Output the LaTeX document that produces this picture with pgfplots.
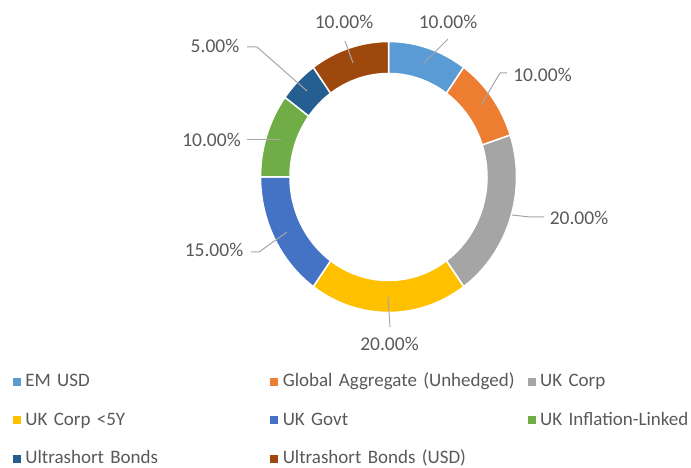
\documentclass[border=0pt]{standalone}
\usepackage{pgfplots}
\pgfplotsset{compat=1.18}
\usepackage{pgfplotstable}
\usepackage{fontspec}
\setmainfont{Carlito}
\definecolor{c0}{HTML}{5B9BD5}
\definecolor{c1}{HTML}{ED7D31}
\definecolor{c2}{HTML}{A5A5A5}
\definecolor{c3}{HTML}{FFC000}
\definecolor{c4}{HTML}{4472C4}
\definecolor{c5}{HTML}{70AD47}
\definecolor{c6}{HTML}{255E91}
\definecolor{c7}{HTML}{9E480E}
\definecolor{txt}{HTML}{595959}
\definecolor{lead}{HTML}{A6A6A6}
\pgfplotstableread{
idx value
0 10
1 10
2 20
3 20
4 15
5 10
6 5
7 10
}\donut
\begin{document}
\hyphenpenalty=10000
\exhyphenpenalty=10000
\begin{tikzpicture}
\begin{axis}[
  x=1pt, y=1pt, xmin=0, xmax=691, ymin=0, ymax=465,
  hide axis, clip=false,
  legend columns=3,
  legend cell align=left,
  legend image code/.code={\fill[#1] (0pt,-3.5pt) rectangle (7pt,3.5pt);},
  legend style={draw=none, fill=none, inner sep=0pt, outer sep=0pt,
    at={(axis description cs:0.018813,0.2)}, anchor=north west,
    font=\fontsize{19}{23}\selectfont, text=txt, row sep=19.5pt,
    nodes={text width=240pt, align=left, inner ysep=0pt, text height=15pt, text depth=4pt, inner xsep=5pt},
    /tikz/column 6/.style={nodes={text width=143pt}}},
]
\path (axis cs:0,0) rectangle (axis cs:691,465);
\def\astart{90}
\pgfplotsforeachungrouped \i in {0,...,7}{%
  \pgfplotstablegetelem{\i}{value}\of\donut
  \pgfmathsetmacro\aend{\astart-3.6*\pgfplotsretval}%
  \edef\cmd{\noexpand\filldraw[fill=c\i, draw=white, line width=1.5pt]
    ([shift={(\astart:128pt and 135.5pt)}]axis cs:388.5,288)
    arc[start angle=\astart, end angle=\aend, x radius=128pt, y radius=135.5pt]
    -- ([shift={(\aend:98.5pt and 103.5pt)}]axis cs:388.5,288)
    arc[start angle=\aend, end angle=\astart, x radius=98.5pt, y radius=103.5pt] -- cycle;}%
  \cmd
  \global\let\astart\aend
}
% leader lines
\draw[lead, line width=1pt] (axis cs:424,402) -- (axis cs:448,426);
\draw[lead, line width=1pt] (axis cs:481,360) -- (axis cs:500,392) -- (axis cs:507,392);
\draw[lead, line width=1pt] (axis cs:512,250) -- (axis cs:530,248) -- (axis cs:544,248);
\draw[lead, line width=1pt] (axis cs:388,168) -- (axis cs:390,138);
\draw[lead, line width=1pt] (axis cs:287,233) -- (axis cs:259,213) -- (axis cs:251,213);
\draw[lead, line width=1pt] (axis cs:281,325) -- (axis cs:247,325);
\draw[lead, line width=1pt] (axis cs:307,374) -- (axis cs:257,418) -- (axis cs:247,418);
\draw[lead, line width=1pt] (axis cs:353,402) -- (axis cs:345,424);
% labels
\begin{scope}[every node/.style={anchor=base, text=txt, inner sep=0pt, font=\fontsize{19.5}{23}\selectfont}]
\node at (axis cs:448,436) {10.00\%};
\node at (axis cs:542.5,383) {10.00\%};
\node at (axis cs:579,240) {20.00\%};
\node at (axis cs:389.5,114) {20.00\%};
\node at (axis cs:214,208) {15.00\%};
\node at (axis cs:211.5,318) {10.00\%};
\node at (axis cs:215,412) {5.00\%};
\node at (axis cs:344,436) {10.00\%};
\end{scope}
\addlegendimage{c0}\addlegendentry{EM USD}
\addlegendimage{c1}\addlegendentry{Global Aggregate (Unhedged)}
\addlegendimage{c2}\addlegendentry{UK Corp}
\addlegendimage{c3}\addlegendentry{UK Corp <5Y}
\addlegendimage{c4}\addlegendentry{UK Govt}
\addlegendimage{c5}\addlegendentry{\mbox{UK Inflation-Linked}}
\addlegendimage{c6}\addlegendentry{Ultrashort Bonds}
\addlegendimage{c7}\addlegendentry{Ultrashort Bonds (USD)}
\end{axis}
\end{tikzpicture}
\end{document}
